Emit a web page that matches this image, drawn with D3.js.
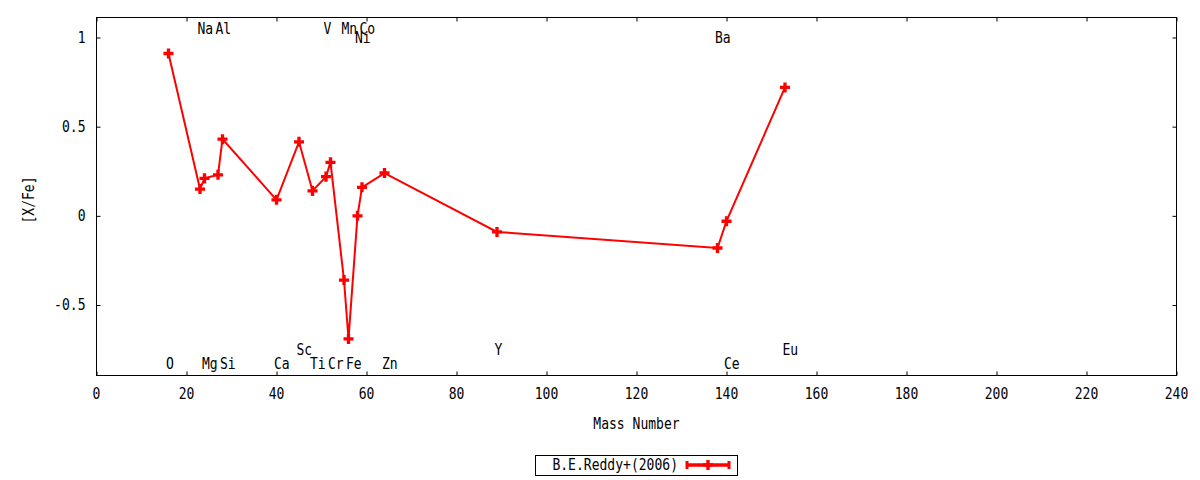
<!DOCTYPE html>
<html>
<head>
<meta charset="utf-8">
<script src="https://cdn.jsdelivr.net/npm/d3@7"></script>
<style>
  body { margin: 0; background: #fff; }
  text { font-family: "DejaVu Sans Mono", monospace; font-size: 15px; fill: #000; }
</style>
</head>
<body>
<div id="chart"></div>
<script>
// abundance pattern
let elements = ["O","Na","Mg","Al","Si","Ca","Sc","Ti","V","Cr","Mn","Fe","Ni","Co","Zn","Y","Ba","Ce","Eu"];
let mass     = [16, 23, 24, 27, 28, 40, 45, 48, 51, 52, 55, 56, 58, 59, 64, 89, 138, 140, 153];
let xfe      = [0.91, 0.15, 0.21, 0.23, 0.43, 0.09, 0.415, 0.14, 0.22, 0.30, -0.36, -0.69, 0.00, 0.16, 0.24, -0.09, -0.18, -0.03, 0.72];
// y where each element name is written
let labelY   = [-0.83, 1.05, -0.83, 1.05, -0.83, -0.83, -0.75, -0.83, 1.05, -0.83, 1.05, -0.83, 1.0, 1.05, -0.83, -0.75, 1.0, -0.83, -0.75];
let xTicks = [0, 20, 40, 60, 80, 100, 120, 140, 160, 180, 200, 220, 240];
let yTicks = [-0.5, 0, 0.5, 1];
let seriesName = "B.E.Reddy+(2006)";

let W = 1200, H = 480;
let pLeft = 96.5, pRight = 1176.5, pTop = 17.5, pBottom = 375.5;
let sx = 0.87; // narrow the glyphs like the gnuplot font

let svg = d3.select("#chart")
    .append("svg")
        .attr("width", W)
        .attr("height", H);

let x = d3.scaleLinear()
    .domain([0, 240])
    .range([pLeft, pRight]);

let y = d3.scaleLinear()
    .domain([-0.895, 1.112])
    .range([pBottom, pTop]);

// text helper: squeezed horizontally
function label(g, px, py, str, anchor) {
    return g.append("text")
        .attr("transform", "translate(" + px + "," + py + ") scale(" + sx + ",1)")
        .attr("text-anchor", anchor || "start")
        .attr("dy", "0.35em")
        .text(str);
}

// ticks on all four sides, pointing inward
function tickStyle(g) {
    g.select(".domain").remove();
    g.selectAll(".tick line").attr("stroke", "#000");
}

svg.append("g")
    .attr("transform", "translate(0," + pBottom + ")")
    .call(d3.axisBottom(x).tickValues(xTicks).tickSize(-4).tickFormat(""))
    .call(tickStyle);
svg.append("g")
    .attr("transform", "translate(0," + pTop + ")")
    .call(d3.axisTop(x).tickValues(xTicks).tickSize(-4).tickFormat(""))
    .call(tickStyle);
svg.append("g")
    .attr("transform", "translate(" + pLeft + ",0)")
    .call(d3.axisLeft(y).tickValues(yTicks).tickSize(-4).tickFormat(""))
    .call(tickStyle);
svg.append("g")
    .attr("transform", "translate(" + pRight + ",0)")
    .call(d3.axisRight(y).tickValues(yTicks).tickSize(-4).tickFormat(""))
    .call(tickStyle);

// tick labels
let tl = svg.append("g");
xTicks.forEach(function(t) { label(tl, x(t), pBottom + 18, d3.format("d")(t), "middle"); });
yTicks.forEach(function(t) { label(tl, pLeft - 11, y(t), String(t), "end"); });

// frame
svg.append("rect")
    .attr("x", pLeft)
    .attr("y", pTop)
    .attr("width", pRight - pLeft)
    .attr("height", pBottom - pTop)
    .attr("fill", "none")
    .attr("stroke", "#000")
    .attr("stroke-width", 1);

// axis titles
label(svg, (pLeft + pRight) / 2, 424, "Mass Number", "middle");
svg.append("text")
    .attr("transform", "translate(29,200) rotate(-90) scale(" + sx + ",1)")
    .attr("text-anchor", "middle")
    .attr("dy", "0.35em")
    .text("[X/Fe]");

// element names
let names = svg.append("g");
elements.forEach(function(e, i) { label(names, x(mass[i]) - 2.5, y(labelY[i]), e, "start"); });

// series
let pts = mass.map(function(m, i) { return [m, xfe[i]]; });

svg.append("path")
    .datum(pts)
    .attr("fill", "none")
    .attr("stroke", "#ff0000")
    .attr("stroke-width", 2)
    .attr("stroke-linejoin", "miter")
    .attr("d", d3.line()
        .x(function(d) { return x(d[0]); })
        .y(function(d) { return y(d[1]); }));

let cross = d3.symbol().type(d3.symbolCross).size(56);

svg.selectAll("mypoints")
    .data(pts)
    .enter()
    .append("path")
        .attr("transform", function(d) { return "translate(" + x(d[0]) + "," + y(d[1]) + ")"; })
        .attr("d", cross)
        .attr("fill", "#ff0000");

// legend
let lg = svg.append("g");
lg.append("rect")
    .attr("x", 535.5)
    .attr("y", 455.5)
    .attr("width", 202)
    .attr("height", 20)
    .attr("fill", "none")
    .attr("stroke", "#000");
label(lg, 678, 465, seriesName, "end");
lg.append("line")
    .attr("x1", 687).attr("x2", 729)
    .attr("y1", 465).attr("y2", 465)
    .attr("stroke", "#ff0000")
    .attr("stroke-width", 3.5);
[687, 729].forEach(function(cx) {
    lg.append("rect")
        .attr("x", cx - 1.5).attr("y", 461)
        .attr("width", 3).attr("height", 8)
        .attr("fill", "#ff0000");
});
lg.append("path")
    .attr("transform", "translate(708,465)")
    .attr("d", cross)
    .attr("fill", "#ff0000");
</script>
</body>
</html>
